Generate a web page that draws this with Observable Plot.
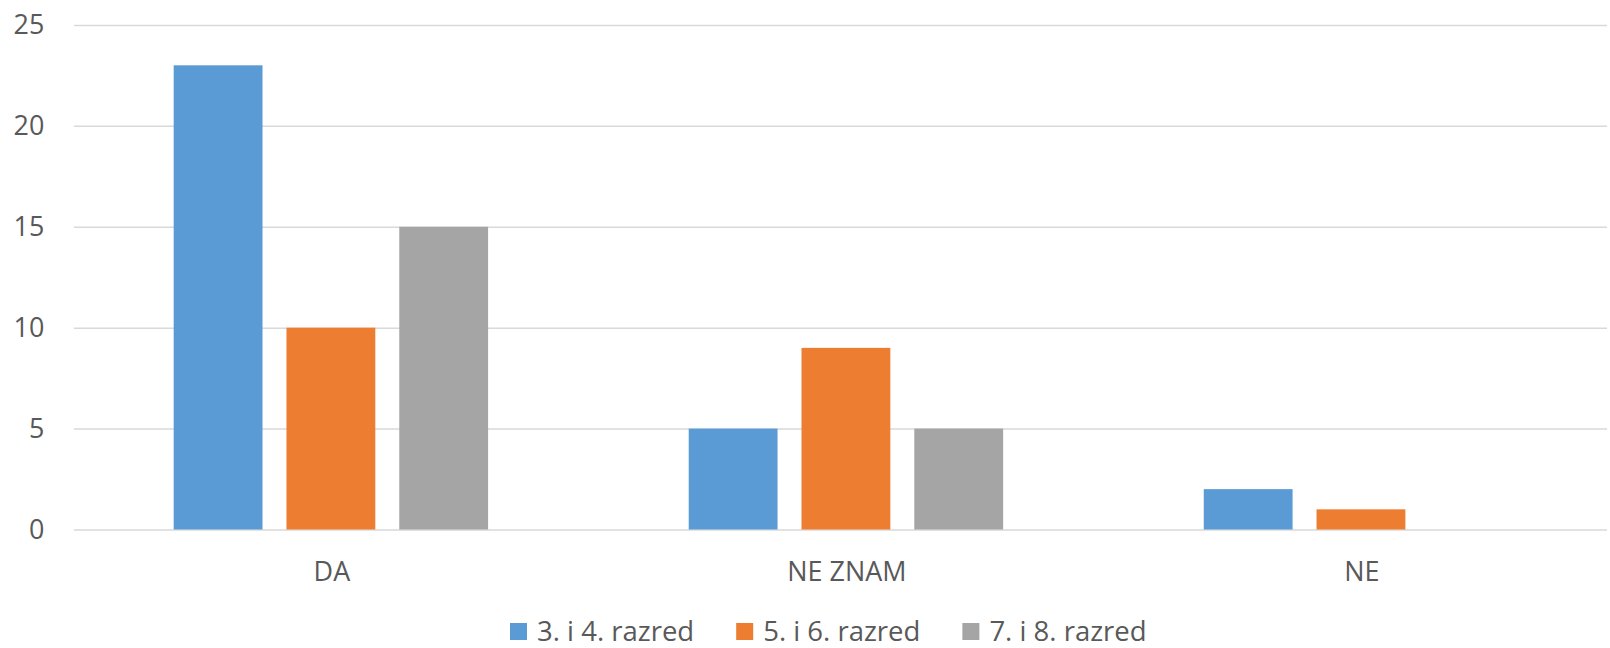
<!DOCTYPE html>
<html>
<head>
<meta charset="utf-8">
<script src="https://cdn.jsdelivr.net/npm/d3@7"></script>
<script src="https://cdn.jsdelivr.net/npm/@observablehq/plot@0.6"></script>
<style>
  html, body { margin: 0; padding: 0; background: #fff; }
  #wrap { position: relative; width: 1607px; height: 648px; overflow: hidden; }
  #legend { position: absolute; left: 0; top: 600px; }
</style>
</head>
<body>
<div id="wrap">
  <div id="chart"></div>
  <svg id="legend" width="1607" height="48"></svg>
</div>
<script>
const categories = ["DA", "NE ZNAM", "NE"];
const series = ["3. i 4. razred", "5. i 6. razred", "7. i 8. razred"];
const values3i4 = [23, 5, 2];
const values5i6 = [10, 9, 1];
const values7i8 = [15, 5, 0];
const colors = ["#5B9BD5", "#ED7D31", "#A5A5A5"];
const yTicks = [0, 5, 10, 15, 20, 25];

const seriesValues = [values3i4, values5i6, values7i8];
const data = [];
categories.forEach((c, i) => {
  series.forEach((s, j) => data.push({answer: c, group: s, value: seriesValues[j][i]}));
});

const chart = Plot.plot({
  width: 1610,
  height: 600,
  marginTop: 25,
  marginBottom: 69.5,
  marginLeft: 73,
  marginRight: -12,
  style: {fontFamily: "Open Sans, sans-serif", fontSize: "27px", color: "#595959", background: "#fff", overflow: "hidden"},
  fx: {domain: categories, paddingInner: 0, paddingOuter: 0, label: null, axis: "bottom", tickSize: 0, tickPadding: 32},
  x: {domain: series, paddingInner: 0.2105, paddingOuter: 0.87, axis: null},
  y: {domain: [0, 25], ticks: yTicks, label: null, tickSize: 0, tickPadding: 30},
  color: {domain: series, range: colors},
  marks: [
    Plot.ruleY(yTicks, {y: d => d, stroke: "#d9d9d9", strokeWidth: 1.5}),
    Plot.axisY({ticks: yTicks, tickSize: 0, tickPadding: 30, label: null, fontSize: 27, fill: "#595959"}),
    Plot.barY(data, {fx: "answer", x: "group", y: "value", fill: "group"})
  ]
});
document.getElementById("chart").appendChild(chart);

// legend (SVG), laid out from measured text widths
const NS = "http://www.w3.org/2000/svg";
const legend = document.getElementById("legend");
let x = 510;
series.forEach((s, j) => {
  const r = document.createElementNS(NS, "rect");
  r.setAttribute("x", x); r.setAttribute("y", 23);
  r.setAttribute("width", 17); r.setAttribute("height", 17);
  r.setAttribute("fill", colors[j]);
  legend.appendChild(r);
  const t = document.createElementNS(NS, "text");
  t.setAttribute("x", x + 27); t.setAttribute("y", 41);
  t.setAttribute("font-family", "Open Sans, sans-serif");
  t.setAttribute("font-size", "27.5");
  t.setAttribute("fill", "#595959");
  t.textContent = s;
  legend.appendChild(t);
  x = x + 27 + t.getComputedTextLength() + 42;
});
</script>
</body>
</html>
